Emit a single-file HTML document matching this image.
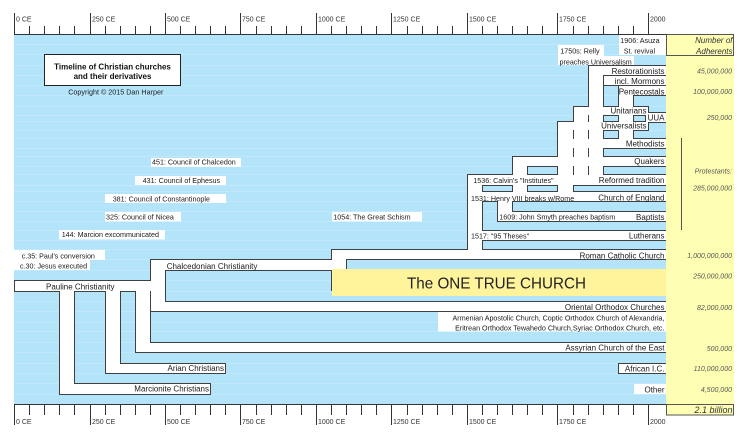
<!DOCTYPE html>
<html><head><meta charset="utf-8"><style>
html,body{margin:0;padding:0;background:#fff;}
svg{display:block;}
</style></head><body>
<svg width="747" height="440" viewBox="0 0 747 440" xmlns="http://www.w3.org/2000/svg" font-family="'Liberation Sans', Arial, sans-serif">
<rect width="747" height="440" fill="#fff"/>
<rect x="14" y="35" width="652" height="369" fill="#b4e4fa"/>
<g fill="#c2e9fb">
<rect x="14" y="44" width="652" height="1"/><rect x="14" y="54" width="652" height="1"/><rect x="14" y="65" width="652" height="1"/><rect x="14" y="75" width="652" height="1"/><rect x="14" y="85" width="652" height="1"/><rect x="14" y="95" width="652" height="1"/><rect x="14" y="106" width="652" height="1"/><rect x="14" y="115" width="652" height="1"/><rect x="14" y="121" width="652" height="1"/><rect x="14" y="130" width="652" height="1"/><rect x="14" y="138" width="652" height="1"/><rect x="14" y="148" width="652" height="1"/><rect x="14" y="156" width="652" height="1"/><rect x="14" y="166" width="652" height="1"/><rect x="14" y="174" width="652" height="1"/><rect x="14" y="185" width="652" height="1"/><rect x="14" y="191" width="652" height="1"/><rect x="14" y="201" width="652" height="1"/><rect x="14" y="211" width="652" height="1"/><rect x="14" y="221" width="652" height="1"/><rect x="14" y="230" width="652" height="1"/><rect x="14" y="240" width="652" height="1"/><rect x="14" y="249" width="652" height="1"/><rect x="14" y="259" width="652" height="1"/><rect x="14" y="270" width="652" height="1"/><rect x="14" y="280" width="652" height="1"/><rect x="14" y="291" width="652" height="1"/><rect x="14" y="301" width="652" height="1"/><rect x="14" y="311" width="652" height="1"/><rect x="14" y="322" width="652" height="1"/><rect x="14" y="331" width="652" height="1"/><rect x="14" y="342" width="652" height="1"/><rect x="14" y="352" width="652" height="1"/><rect x="14" y="363" width="652" height="1"/><rect x="14" y="373" width="652" height="1"/><rect x="14" y="383" width="652" height="1"/><rect x="14" y="394" width="652" height="1"/>
</g>

<!-- council label boxes -->
<g fill="#fff">
<rect x="151" y="158" width="90" height="9"/>
<rect x="135" y="176" width="91" height="9"/>
<rect x="105" y="194" width="121" height="9"/>
<rect x="105" y="212" width="76" height="9.5"/>
<rect x="59" y="230" width="106" height="9.5"/>
<rect x="332" y="212" width="90" height="9.5"/>
<rect x="14" y="250" width="91" height="10"/>
<rect x="14" y="260" width="76" height="10"/>
</g>

<!-- title box -->
<rect x="44.5" y="54.5" width="136" height="31" fill="#fff" stroke="#222" stroke-width="1"/>

<!-- dark pipe outlines -->
<g fill="#404040">
<rect x="14" y="280" width="137" height="12"/>
<rect x="59" y="280" width="16" height="115"/>
<rect x="59" y="383" width="152" height="12"/>
<rect x="105" y="280" width="16" height="94"/>
<rect x="105" y="363" width="121" height="11"/>
<rect x="135" y="280" width="16" height="73"/>
<rect x="135" y="342" width="532" height="11"/>
<rect x="150" y="259" width="16" height="53"/>
<rect x="150" y="259" width="197" height="12"/>
<rect x="150" y="301" width="517" height="11"/>
<rect x="331" y="249" width="16" height="42"/>
<rect x="331" y="249" width="336" height="11"/>
<!-- protestant -->
<rect x="467" y="174" width="16" height="80"/>
<rect x="467" y="174" width="200" height="12"/>
<rect x="467" y="191" width="200" height="11"/>
<rect x="497" y="191" width="16" height="31"/>
<rect x="497" y="211" width="170" height="11"/>
<rect x="467" y="230" width="200" height="11"/>
<rect x="512" y="156" width="16" height="46"/>
<rect x="512" y="156" width="155" height="11"/>
<rect x="557" y="121" width="17" height="81"/>
<rect x="557" y="121" width="92" height="10"/>
<rect x="557" y="138" width="110" height="11"/>
<rect x="573" y="106" width="16" height="80"/>
<rect x="573" y="106" width="76" height="10"/>
<rect x="588" y="65" width="16" height="121"/>
<rect x="588" y="65" width="79" height="11"/>
<rect x="603" y="75" width="64" height="11"/>
<rect x="618" y="85" width="16" height="64"/>
<rect x="618" y="85" width="49" height="11"/>
<rect x="645" y="112" width="22" height="11"/>
<rect x="618" y="363" width="49" height="11"/>
</g>

<!-- white pipe interiors -->
<g fill="#fff">
<rect x="15" y="281" width="150" height="10"/>
<rect x="60" y="281" width="14" height="113"/>
<rect x="60" y="384" width="150" height="10"/>
<rect x="106" y="281" width="14" height="92"/>
<rect x="106" y="364" width="119" height="9"/>
<rect x="136" y="281" width="14" height="71"/>
<rect x="136" y="343" width="530" height="9"/>
<rect x="151" y="260" width="14" height="51"/>
<rect x="151" y="260" width="195" height="10"/>
<rect x="151" y="302" width="515" height="9"/>
<rect x="332" y="250" width="14" height="40"/>
<rect x="332" y="250" width="334" height="9"/>
<!-- protestant -->
<rect x="468" y="175" width="14" height="84"/>
<rect x="468" y="175" width="198" height="10"/>
<rect x="468" y="192" width="198" height="9"/>
<rect x="498" y="192" width="14" height="29"/>
<rect x="498" y="212" width="168" height="9"/>
<rect x="468" y="231" width="198" height="9"/>
<rect x="513" y="157" width="14" height="44"/>
<rect x="513" y="157" width="153" height="9"/>
<rect x="558" y="122" width="15" height="79"/>
<rect x="558" y="122" width="90" height="8"/>
<rect x="558" y="139" width="108" height="9"/>
<rect x="574" y="107" width="14" height="78"/>
<rect x="574" y="107" width="74" height="8"/>
<rect x="589" y="66" width="14" height="119"/>
<rect x="589" y="66" width="77" height="9"/>
<rect x="604" y="76" width="62" height="9"/>
<rect x="619" y="86" width="14" height="62"/>
<rect x="619" y="86" width="47" height="9"/>
<rect x="646" y="113" width="20" height="9"/>
<rect x="619" y="364" width="47" height="9"/>
<!-- label boxes -->
<rect x="438" y="312" width="228" height="19.5"/>
<rect x="634" y="384" width="32" height="10"/>
<rect x="619" y="35" width="47" height="20"/>
<rect x="558" y="45" width="46" height="11"/>
<rect x="558" y="56" width="76" height="9"/>
</g>

<!-- ONE TRUE CHURCH -->
<rect x="332" y="269" width="334" height="27" fill="#fff49c"/>
<text x="407" y="288.3" font-size="16" fill="#222" textLength="179" lengthAdjust="spacingAndGlyphs">The ONE TRUE CHURCH</text>

<!-- yellow column -->
<rect x="666" y="34" width="68" height="381" fill="#ffffb4"/>
<rect x="666.5" y="34.5" width="67" height="21" fill="none" stroke="#555" stroke-width="1"/>
<rect x="666.5" y="404.5" width="67" height="10.5" fill="none" stroke="#555" stroke-width="1"/>
<path d="M681.5 138V230" stroke="#555" stroke-width="1"/>

<!-- axes -->
<g stroke="#333" stroke-width="1" fill="none">
<path d="M14 34.5H666 M14 404.5H666"/>
<path d="M14.5 13V34 M29.5 26V34 M44.5 26V34 M59.5 26V34 M74.5 26V34 M90.5 13V34 M105.5 26V34 M120.5 26V34 M135.5 26V34 M150.5 26V34 M165.5 13V34 M180.5 26V34 M195.5 26V34 M210.5 26V34 M225.5 26V34 M240.5 13V34 M256.5 26V34 M271.5 26V34 M286.5 26V34 M301.5 26V34 M316.5 13V34 M331.5 26V34 M346.5 26V34 M361.5 26V34 M376.5 26V34 M391.5 13V34 M407.5 26V34 M422.5 26V34 M437.5 26V34 M452.5 26V34 M467.5 13V34 M482.5 26V34 M497.5 26V34 M512.5 26V34 M527.5 26V34 M542.5 26V34 M557.5 13V34 M573.5 26V34 M588.5 26V34 M603.5 26V34 M618.5 26V34 M633.5 26V34 M648.5 13V34"/>
<path d="M14.5 405V425 M29.5 405V415 M44.5 405V415 M59.5 405V415 M74.5 405V415 M90.5 405V425 M105.5 405V415 M120.5 405V415 M135.5 405V415 M150.5 405V415 M165.5 405V425 M180.5 405V415 M195.5 405V415 M210.5 405V415 M225.5 405V415 M240.5 405V425 M256.5 405V415 M271.5 405V415 M286.5 405V415 M301.5 405V415 M316.5 405V425 M331.5 405V415 M346.5 405V415 M361.5 405V415 M376.5 405V415 M391.5 405V425 M407.5 405V415 M422.5 405V415 M437.5 405V415 M452.5 405V415 M467.5 405V425 M482.5 405V415 M497.5 405V415 M512.5 405V415 M527.5 405V415 M542.5 405V415 M557.5 405V425 M573.5 405V415 M588.5 405V415 M603.5 405V415 M618.5 405V415 M633.5 405V415 M648.5 405V425"/>
</g>
<g font-size="7" fill="#333">
<text x="16" y="21.5">0 CE</text>
<text x="92" y="21.5">250 CE</text>
<text x="167" y="21.5">500 CE</text>
<text x="242" y="21.5">750 CE</text>
<text x="318" y="21.5">1000 CE</text>
<text x="393" y="21.5">1250 CE</text>
<text x="469" y="21.5">1500 CE</text>
<text x="559" y="21.5">1750 CE</text>
<text x="650" y="21.5">2000</text>
<text x="16" y="424">0 CE</text>
<text x="92" y="424">250 CE</text>
<text x="167" y="424">500 CE</text>
<text x="242" y="424">750 CE</text>
<text x="318" y="424">1000 CE</text>
<text x="393" y="424">1250 CE</text>
<text x="469" y="424">1500 CE</text>
<text x="559" y="424">1750 CE</text>
<text x="650" y="424">2000</text>
</g>

<!-- title -->
<g font-size="8" font-weight="bold" fill="#111" text-anchor="middle">
<text x="112.5" y="69.5">Timeline of Christian churches</text>
<text x="112.5" y="79">and their derivatives</text>
</g>
<text x="115.8" y="94.5" font-size="7.2" fill="#222" text-anchor="middle">Copyright © 2015 Dan Harper</text>

<!-- annotations -->
<g font-size="7.15" fill="#1a1a1a">
<text x="152" y="164.6">451: Council of Chalcedon</text>
<text x="142.7" y="183">431: Council of Ephesus</text>
<text x="112.7" y="201.6">381: Council of Constantinople</text>
<text x="106" y="219.3">325: Council of Nicea</text>
<text x="61.7" y="237">144: Marcion excommunicated</text>
<text x="333.3" y="219.3">1054: The Great Schism</text>
<text x="21.7" y="258.3">c.35: Paul's conversion</text>
<text x="20" y="268.3">c.30: Jesus executed</text>
<text x="473.3" y="183">1536: Calvin's "Institutes"</text>
<text x="471" y="201">1531: Henry VIII breaks w/Rome</text>
<text x="499.3" y="219.5">1609: John Smyth preaches baptism</text>
<text x="471" y="238.5">1517: "95 Theses"</text>
<text x="620.3" y="43">1906: Asuza</text>
<text x="623.7" y="53.6">St. revival</text>
<text x="560.3" y="53.6">1750s: Relly</text>
<text x="559.5" y="64.3">preaches Universalism</text>
<text x="664.5" y="320.3" text-anchor="end">Armenian Apostolic Church, Coptic Orthodox Church of Alexandria,</text>
<text x="664.5" y="330.3" text-anchor="end">Eritrean Orthodox Tewahedo Church,Syriac Orthodox Church, etc.</text>
</g>

<!-- pipe labels -->
<g font-size="8" fill="#1a1a1a">
<text x="46" y="289.7">Pauline Christianity</text>
<text x="166.7" y="269.2">Chalcedonian Christianity</text>
<g text-anchor="end">
<text x="224" y="370.8">Arian Christians</text>
<text x="209" y="391.7">Marcionite Christians</text>
<text x="664.5" y="258.5">Roman Catholic Church</text>
<text x="664.5" y="310">Oriental Orthodox Churches</text>
<text x="664.5" y="350.5">Assyrian Church of the East</text>
<text x="664.5" y="371.5">African I.C.</text>
<text x="664.5" y="392.3">Other</text>
<text x="664.5" y="74">Restorationists</text>
<text x="664.5" y="84">incl. Mormons</text>
<text x="664.5" y="94.5">Pentecostals</text>
<text x="646.5" y="113.5">Unitarians</text>
<text x="664.5" y="120.5">UUA</text>
<text x="646.5" y="128.5">Universalists</text>
<text x="664.5" y="146.7">Methodists</text>
<text x="664.5" y="164">Quakers</text>
<text x="664.5" y="183.2">Reformed tradition</text>
<text x="664.5" y="200.5">Church of England</text>
<text x="664.5" y="219.8">Baptists</text>
<text x="664.5" y="238.5">Lutherans</text>
</g>
</g>

<!-- adherents column -->
<g font-style="italic" fill="#333" text-anchor="end">
<text x="732.5" y="43.2" font-size="8">Number of</text>
<text x="732.5" y="53.9" font-size="8">Adherents</text>
<text x="732.5" y="413.2" font-size="9">2.1 billion</text>
</g>
<g font-style="italic" fill="#555" font-size="7" text-anchor="end">
<text x="732" y="73.5">45,000,000</text>
<text x="732" y="94.2">100,000,000</text>
<text x="732" y="120.2">250,000</text>
<text x="732" y="173.5">Protestants:</text>
<text x="732" y="190.5">285,000,000</text>
<text x="732" y="258.2">1,000,000,000</text>
<text x="732" y="278.5">250,000,000</text>
<text x="732" y="309.8">82,000,000</text>
<text x="732" y="350.8">500,000</text>
<text x="732" y="371.2">110,000,000</text>
<text x="732" y="391.8">4,500,000</text>
</g>
</svg>
</body></html>
